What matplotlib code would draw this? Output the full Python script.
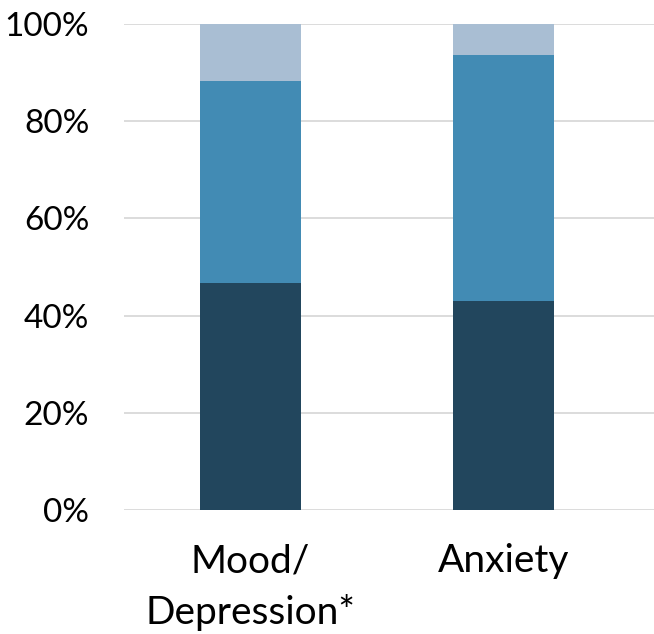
import matplotlib
matplotlib.use("Agg")
import matplotlib.pyplot as plt
import numpy as np

plt.rcParams['font.family'] = ['Lato', 'DejaVu Sans']

categories = ["Mood/\nDepression*", "Anxiety"]
dark_vals = [46.8, 43.0]
mid_vals = [41.5, 50.7]
light_vals = [11.7, 6.3]
y_ticks = [0, 20, 40, 60, 80, 100]
y_tick_labels = ["0%", "20%", "40%", "60%", "80%", "100%"]

colors = ["#22465D", "#428BB4", "#A9BED3"]

fig = plt.figure(figsize=(6.54, 6.34), dpi=100)
ax = fig.add_axes([124 / 654, (634 - 510) / 634, 530 / 654, 486 / 634])

x = np.arange(len(categories))
bottom = np.zeros(len(categories))
for vals, c in zip([dark_vals, mid_vals, light_vals], colors):
    ax.bar(x, vals, width=0.4, bottom=bottom, color=c, zorder=3)
    bottom += np.array(vals)

ax.set_ylim(0, 100)
ax.set_xlim(-0.5, 1.595)
ax.set_yticks(y_ticks)
ax.set_yticklabels(y_tick_labels)
ax.set_xticks(x)
ax.set_xticklabels(categories, linespacing=1.5)
ax.tick_params(axis='y', length=0, pad=25, labelsize=24, labelcolor='black')
ax.tick_params(axis='x', length=0, pad=24, labelsize=28, labelcolor='black')
ax.grid(axis='y', color='#D9D9D9', linewidth=1.3, zorder=0)
ax.set_axisbelow(True)
for s in ax.spines.values():
    s.set_visible(False)

fig.savefig("out.png", dpi=100)
